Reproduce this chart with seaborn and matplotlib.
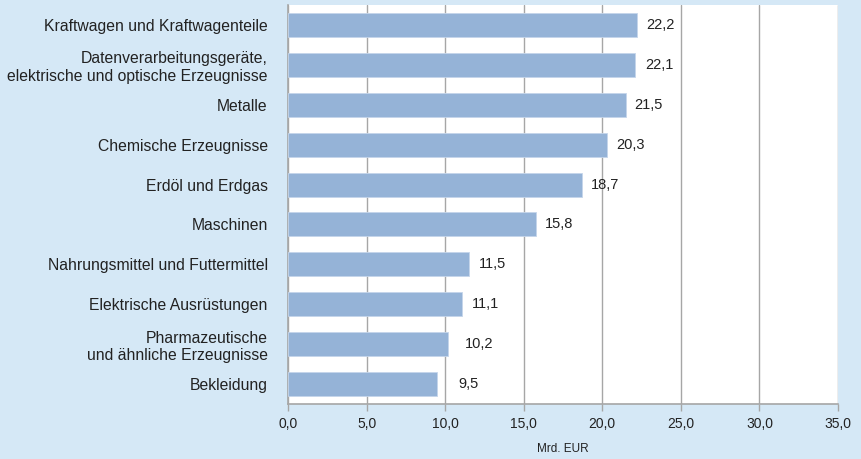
import matplotlib
matplotlib.use("Agg")
import matplotlib.pyplot as plt
import seaborn as sns
import pandas as pd

# ---- DATA ----
categories = [
    "Kraftwagen und Kraftwagenteile",
    "Datenverarbeitungsgeräte,\nelektrische und optische Erzeugnisse",
    "Metalle",
    "Chemische Erzeugnisse",
    "Erdöl und Erdgas",
    "Maschinen",
    "Nahrungsmittel und Futtermittel",
    "Elektrische Ausrüstungen",
    "Pharmazeutische\nund ähnliche Erzeugnisse",
    "Bekleidung",
]
values = [22.2, 22.1, 21.5, 20.3, 18.7, 15.8, 11.5, 11.1, 10.2, 9.5]
x_ticks = [0, 5, 10, 15, 20, 25, 30, 35]

# label gap after bar end (points), as in the original layout
label_gaps = [7, 7, 6, 6.5, 6.5, 6.5, 7, 7, 12, 15]

df = pd.DataFrame({"category": categories, "value": values})

BG = "#d5e8f6"
BAR = "#95b3d7"
GRID = "#a6a6a6"
TXT = "#222222"

sns.set_style("white")
plt.rcParams["font.family"] = ["Liberation Sans", "DejaVu Sans"]

fig = plt.figure(figsize=(8.61, 4.59), dpi=100, facecolor=BG)
ax = fig.add_axes([288 / 861, 1 - 404 / 459, 550 / 861, 399 / 459])
ax.set_facecolor("white")

sns.barplot(data=df, x="value", y="category", color=BAR, width=0.6,
            saturation=1, edgecolor="#c5d5ea", linewidth=0.6, ax=ax, zorder=3)

ax.set_xlim(0, 35)
ax.set_ylim(len(categories) - 0.5, -0.5)
ax.set_xticks(x_ticks)
ax.set_xticklabels([f"{t:.1f}".replace(".", ",") for t in x_ticks], fontsize=10, color=TXT)
ax.xaxis.grid(True, color=GRID, linewidth=1, zorder=0)
ax.set_axisbelow(True)
ax.tick_params(axis="x", length=5, width=1, color=GRID, pad=4, bottom=True)
ax.tick_params(axis="y", length=0, pad=14.5, labelsize=11.3, labelcolor=TXT)

for s in ["top", "right"]:
    ax.spines[s].set_visible(False)
for s in ["left", "bottom"]:
    ax.spines[s].set_color(GRID)
    ax.spines[s].set_linewidth(1.2)

for i, (v, g) in enumerate(zip(values, label_gaps)):
    ax.annotate(f"{v:.1f}".replace(".", ","), xy=(v, i), xytext=(g, 0),
                textcoords="offset points", va="center", ha="left",
                fontsize=10.5, color=TXT)

ax.set_ylabel("")
ax.set_xlabel("Mrd. EUR", fontsize=8.5, color=TXT, labelpad=9)

fig.savefig("out.png", dpi=100, facecolor=BG)
